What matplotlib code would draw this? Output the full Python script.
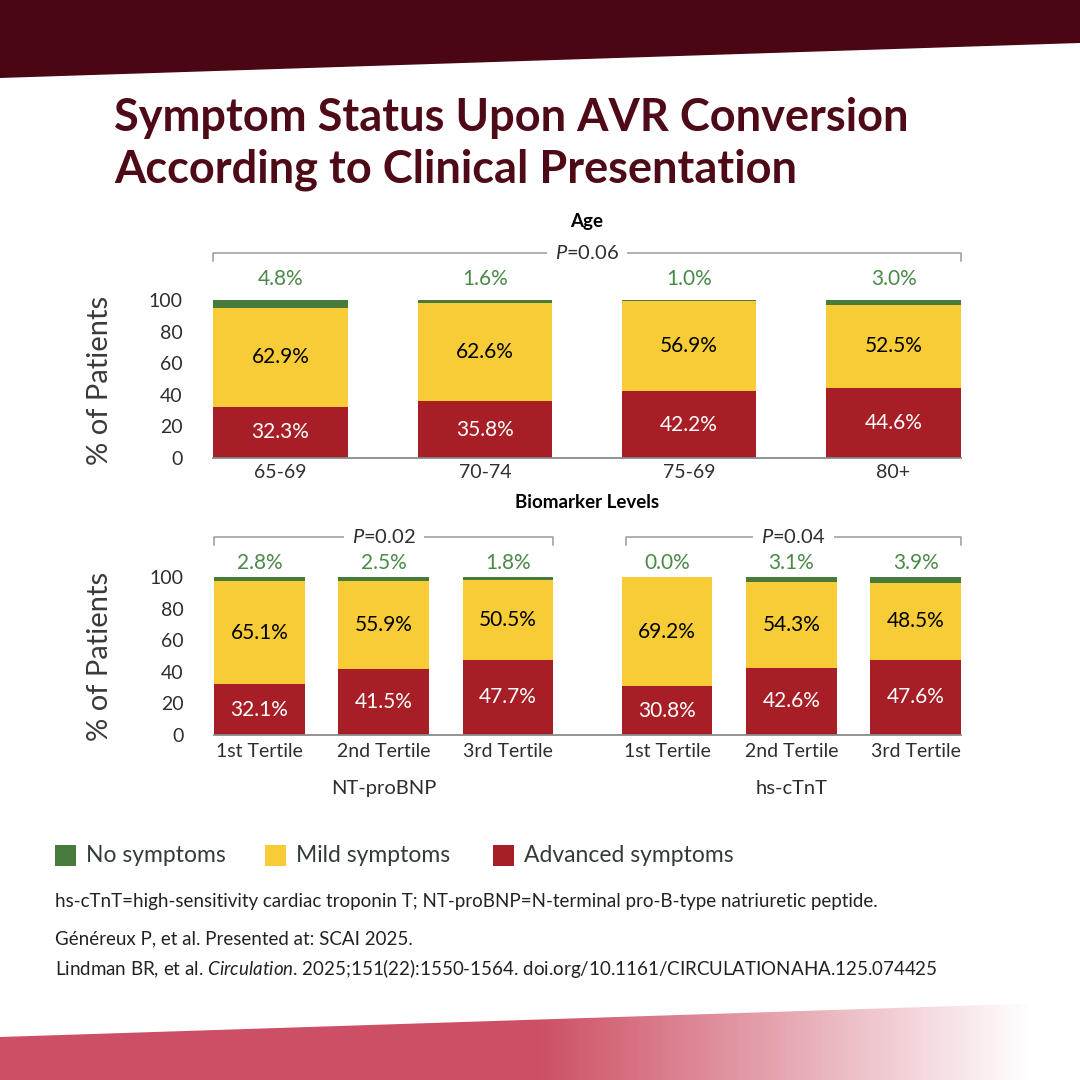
import numpy as np
import matplotlib
matplotlib.use("Agg")
import matplotlib.pyplot as plt
from matplotlib.patches import Polygon, Rectangle

plt.rcParams['font.family'] = ['Lato', 'DejaVu Sans']
plt.rcParams['mathtext.fontset'] = 'custom'
plt.rcParams['mathtext.rm'] = 'Lato'
plt.rcParams['mathtext.it'] = 'Lato:italic'

# datos
edades = ['65-69', '70-74', '75-69', '80+']
edad_sin = [4.8, 1.6, 1.0, 3.0]
edad_leve = [62.9, 62.6, 56.9, 52.5]
edad_avanz = [32.3, 35.8, 42.2, 44.6]
p_edad = '0.06'

tertiles = ['1st Tertile', '2nd Tertile', '3rd Tertile']
grupos = ['NT-proBNP', 'hs-cTnT']
bnp_sin = [2.8, 2.5, 1.8]
bnp_leve = [65.1, 55.9, 50.5]
bnp_avanz = [32.1, 41.5, 47.7]
tnt_sin = [0.0, 3.1, 3.9]
tnt_leve = [69.2, 54.3, 48.5]
tnt_avanz = [30.8, 42.6, 47.6]
p_grupos = ['0.02', '0.04']

yticks = [0, 20, 40, 60, 80, 100]
leyenda = ['No symptoms', 'Mild symptoms', 'Advanced symptoms']

VERDE = '#477b3b'
AMARILLO = '#f8cc37'
ROJO = '#a81e26'
VERDE_TXT = '#4a8a48'
GRIS = '#2e2e2e'
GRANATE = '#4b0613'

fig = plt.figure(figsize=(10.8, 10.8), dpi=100)

# fondo con bandas
bg = fig.add_axes([0, 0, 1, 1])
bg.set_xlim(0, 1080)
bg.set_ylim(1080, 0)
bg.axis('off')
bg.add_patch(Polygon([(0, 0), (1080, 0), (1080, 43), (0, 78)], closed=True,
                     facecolor=GRANATE, edgecolor='none'))
grad = np.ones((2, 1080, 4))
grad[..., 0] = 205 / 255
grad[..., 1] = 79 / 255
grad[..., 2] = 101 / 255
xs = np.arange(1080)
grad[..., 3] = np.clip((1030 - xs) / (1030 - 540), 0, 1)
im = bg.imshow(grad, extent=(0, 1080, 1080, 1000), aspect='auto', zorder=1)
banda = Polygon([(0, 1037), (1080, 1002), (1080, 1080), (0, 1080)], closed=True,
                facecolor='none', edgecolor='none')
bg.add_patch(banda)
im.set_clip_path(banda)
bg.set_xlim(0, 1080)
bg.set_ylim(1080, 0)


def px(x, y):
    return x / 1080, 1 - y / 1080


def ejes(left, right, top, bottom):
    l, b = px(left, bottom)
    r, t = px(right, top)
    ax = fig.add_axes([l, b, r - l, t - b])
    ax.set_ylim(0, 100)
    for s in ['top', 'right', 'left']:
        ax.spines[s].set_visible(False)
    ax.spines['bottom'].set_color('#8a8a8a')
    ax.spines['bottom'].set_linewidth(1.3)
    ax.set_yticks(yticks)
    ax.tick_params(axis='both', length=0, labelsize=14, colors=GRIS)
    ax.tick_params(axis='y', pad=22)
    ax.patch.set_alpha(0)
    return ax


def apilar(ax, pos, sin, leve, avanz, ancho, y_verde):
    ax.bar(pos, avanz, ancho, color=ROJO)
    ax.bar(pos, leve, ancho, bottom=avanz, color=AMARILLO)
    ax.bar(pos, sin, ancho, bottom=np.array(avanz) + np.array(leve), color=VERDE)
    for x, s, l, a in zip(pos, sin, leve, avanz):
        ax.text(x, a / 2, f'{a:.1f}%', ha='center', va='center', color='white', fontsize=15)
        ax.text(x, a + l / 2, f'{l:.1f}%', ha='center', va='center', color='black', fontsize=15)
        ax.text(x, y_verde, f'{s:.1f}%', ha='center', va='center', color=VERDE_TXT,
                fontsize=15, clip_on=False)


def corchete(ax, x0, x1, y, p):
    ax.plot([x0, x0, x1, x1], [y - 5, y, y, y - 5], color='#9a9a9a', lw=1.1, clip_on=False)
    ax.text((x0 + x1) / 2, y, f'$P$=' + p, ha='center', va='center', fontsize=14.5, color=GRIS,
            bbox=dict(facecolor='white', edgecolor='none', pad=6), clip_on=False)


# grafico superior: edad
ax1 = ejes(213, 961, 300, 458)
pos1 = np.arange(len(edades))
apilar(ax1, pos1, edad_sin, edad_leve, edad_avanz, 0.657, 113)
ax1.set_xlim(-0.33, 3.33)
ax1.set_xticks(pos1)
ax1.set_xticklabels(edades)
ax1.tick_params(axis='x', pad=4)
corchete(ax1, -0.33, 3.33, 130, p_edad)
fig.text(*px(587, 222), 'Age', ha='center', va='center', fontsize=13.5, fontweight='bold')

# grafico inferior: biomarcadores
ax2 = ejes(214, 961, 577, 735)
pos2 = np.array([0, 1, 2, 3.28, 4.28, 5.28])
apilar(ax2, pos2, bnp_sin + tnt_sin, bnp_leve + tnt_leve, bnp_avanz + tnt_avanz, 0.73, 109)
ax2.set_xlim(-0.365, 5.645)
ax2.set_xticks(pos2)
ax2.set_xticklabels(tertiles * 2)
ax2.tick_params(axis='x', pad=6)
corchete(ax2, -0.365, 2.365, 125.5, p_grupos[0])
corchete(ax2, 2.95, 5.645, 125.5, p_grupos[1])
for x, g in zip([1, 4.28], grupos):
    ax2.text(x, -34, g, ha='center', va='center', fontsize=14.5, color=GRIS, clip_on=False)
fig.text(*px(587, 503), 'Biomarker Levels', ha='center', va='center', fontsize=13.5,
         fontweight='bold')

for yc in [380, 656]:
    fig.text(*px(100, yc), '% of Patients', rotation=90, ha='center', va='center',
             fontsize=21, color='#3a3a3a')

# titulo
fig.text(*px(114, 118), 'Symptom Status Upon AVR Conversion', ha='left', va='center',
         fontsize=32.5, fontweight='bold', color='#4f0a18')
fig.text(*px(114, 170), 'According to Clinical Presentation', ha='left', va='center',
         fontsize=32.5, fontweight='bold', color='#4f0a18')

# leyenda
for x, c, t in zip([55, 265, 493], [VERDE, AMARILLO, ROJO], leyenda):
    bg.add_patch(Rectangle((x, 845), 21, 21, facecolor=c, edgecolor='none'))
    bg.text(x + 31, 856, t, ha='left', va='center', fontsize=16.5, color='#333a3a')

# notas
notas = ['hs-cTnT=high-sensitivity cardiac troponin T; NT-proBNP=N-terminal pro-B-type natriuretic peptide.',
         'Généreux P, et al. Presented at: SCAI 2025.',
         'Lindman BR, et al. $Circulation$. 2025;151(22):1550-1564. doi.org/10.1161/CIRCULATIONAHA.125.074425']
for y, t in zip([901, 939, 968], notas):
    bg.text(55, y, t, ha='left', va='center', fontsize=13.5, color='#222222')

fig.savefig('out.png', dpi=100)
